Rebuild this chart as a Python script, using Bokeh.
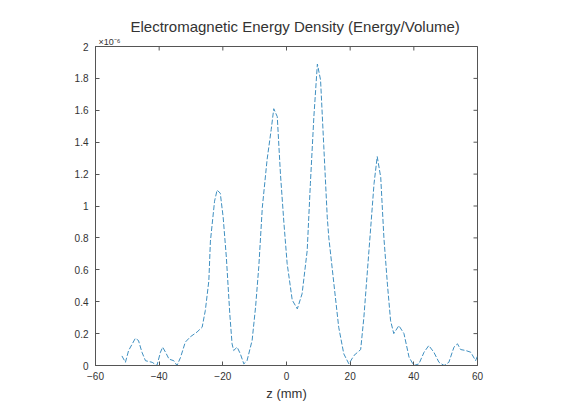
import math
from bokeh.plotting import figure
from bokeh.models import FixedTicker, Range1d, Title
from bokeh.embed import file_html
from bokeh.resources import INLINE

# data
z_mm = [-51.7, -50.6, -49.6, -47.5, -46.5, -45.4, -44.3, -42.2, -40.7, -39.6, -38.9, -38.0,
        -36.9, -35.4, -34.4, -33.3, -31.8, -30.2, -28.1, -26.5, -25.5, -24.4, -23.9, -22.6,
        -21.8, -20.8, -19.9, -18.9, -17.8, -17.1, -16.6, -15.5, -14.5, -13.4, -12.4, -10.8,
        -9.7, -8.7, -7.6, -6.1, -4.8, -4.0, -2.9, -1.9, -0.8, 0.2, 1.8, 3.4, 4.9, 6.5, 7.5,
        8.6, 9.7, 10.7, 11.7, 12.8, 13.3, 14.9, 16.4, 18.0, 19.6, 21.2, 23.3, 24.3, 25.9,
        27.5, 28.5, 29.6, 30.6, 31.7, 32.7, 33.7, 35.3, 36.9, 38.5, 40.0, 41.6, 43.2, 44.7,
        46.3, 47.9, 49.5, 51.0, 52.6, 53.7, 54.7, 56.3, 57.9, 59.4, 60.0]
energy = [0.06, 0.02, 0.094, 0.17, 0.157, 0.083, 0.03, 0.02, 0.0, 0.083, 0.115, 0.083,
          0.04, 0.03, 0.0, 0.05, 0.146, 0.18, 0.21, 0.24, 0.345, 0.53, 0.78, 1.03,
          1.10, 1.08, 0.93, 0.68, 0.32, 0.136, 0.094, 0.115, 0.073, 0.01, 0.03, 0.157,
          0.37, 0.62, 0.99, 1.29, 1.48, 1.61, 1.56, 1.20, 0.89, 0.64, 0.41, 0.355, 0.45, 0.72, 1.14,
          1.56, 1.89, 1.79, 1.38, 0.93, 0.80, 0.51, 0.24, 0.073, 0.01, 0.063, 0.10, 0.30, 0.72,
          1.14, 1.31, 1.18, 0.80, 0.51, 0.28, 0.20, 0.25, 0.20, 0.052, 0.0, 0.01, 0.083, 0.125,
          0.083, 0.02, 0.0, 0.02, 0.115, 0.136, 0.10, 0.094, 0.083, 0.03, 0.06]
x_ticks = [-60, -40, -20, 0, 20, 40, 60]
y_ticks = [0, 0.2, 0.4, 0.6, 0.8, 1, 1.2, 1.4, 1.6, 1.8, 2]
y_tick_labels = ["0", "0.2", "0.4", "0.6", "0.8", "1", "1.2", "1.4", "1.6", "1.8", "2"]
title_text = "Electromagnetic Energy Density (Energy/Volume)"
x_label = "z (mm)"
exponent_text = "×10⁻⁶"

FONT = "Liberation Sans"
AX = "#555555"
TXT = "#333333"

p = figure(width=565, height=414, output_backend="svg", toolbar_location=None,
           x_range=Range1d(-60, 60), y_range=Range1d(0, 2),
           frame_width=382, frame_height=319,
           min_border_left=95, min_border_right=88, min_border_top=46, min_border_bottom=49,
           background_fill_color="white", border_fill_color="white")
p.outline_line_color = AX
p.grid.visible = False

p.title = Title(text=title_text, align="left", text_font=FONT, text_font_size="15px",
                text_font_style="normal", text_color=TXT, offset=35, standoff=0)
p.add_layout(Title(text=exponent_text, align="left", text_font=FONT, text_font_size="9px",
                   text_font_style="normal", text_color=TXT, offset=3, standoff=0), "above")

p.line(z_mm, energy, line_color="#3f8fc0", line_width=1, line_dash="5 2")

# inward ticks on the top and right edges of the box
p.scatter(x_ticks, [2] * len(x_ticks), marker="dash", angle=math.pi / 2, size=8,
          line_color=AX, line_width=1)
p.scatter([60] * len(y_ticks), y_ticks, marker="dash", size=8, line_color=AX, line_width=1)

for ax in (p.xaxis[0], p.yaxis[0]):
    ax.axis_line_color = AX
    ax.major_tick_line_color = AX
    ax.major_tick_in = 4
    ax.major_tick_out = 0
    ax.minor_tick_line_color = None
    ax.major_label_text_font = FONT
    ax.major_label_text_font_size = "10px"
    ax.major_label_text_color = TXT

p.xaxis[0].ticker = FixedTicker(ticks=x_ticks)
p.xaxis[0].major_label_standoff = 6
p.xaxis[0].axis_label = x_label
p.xaxis[0].axis_label_text_font = FONT
p.xaxis[0].axis_label_text_font_size = "13px"
p.xaxis[0].axis_label_text_font_style = "normal"
p.xaxis[0].axis_label_text_color = TXT
p.xaxis[0].axis_label_standoff = 3

p.yaxis[0].ticker = FixedTicker(ticks=y_ticks)
p.yaxis[0].major_label_overrides = {t: l for t, l in zip(y_ticks, y_tick_labels)}
p.yaxis[0].major_label_standoff = 7

open("out.html", "w").write(file_html(p, INLINE))
